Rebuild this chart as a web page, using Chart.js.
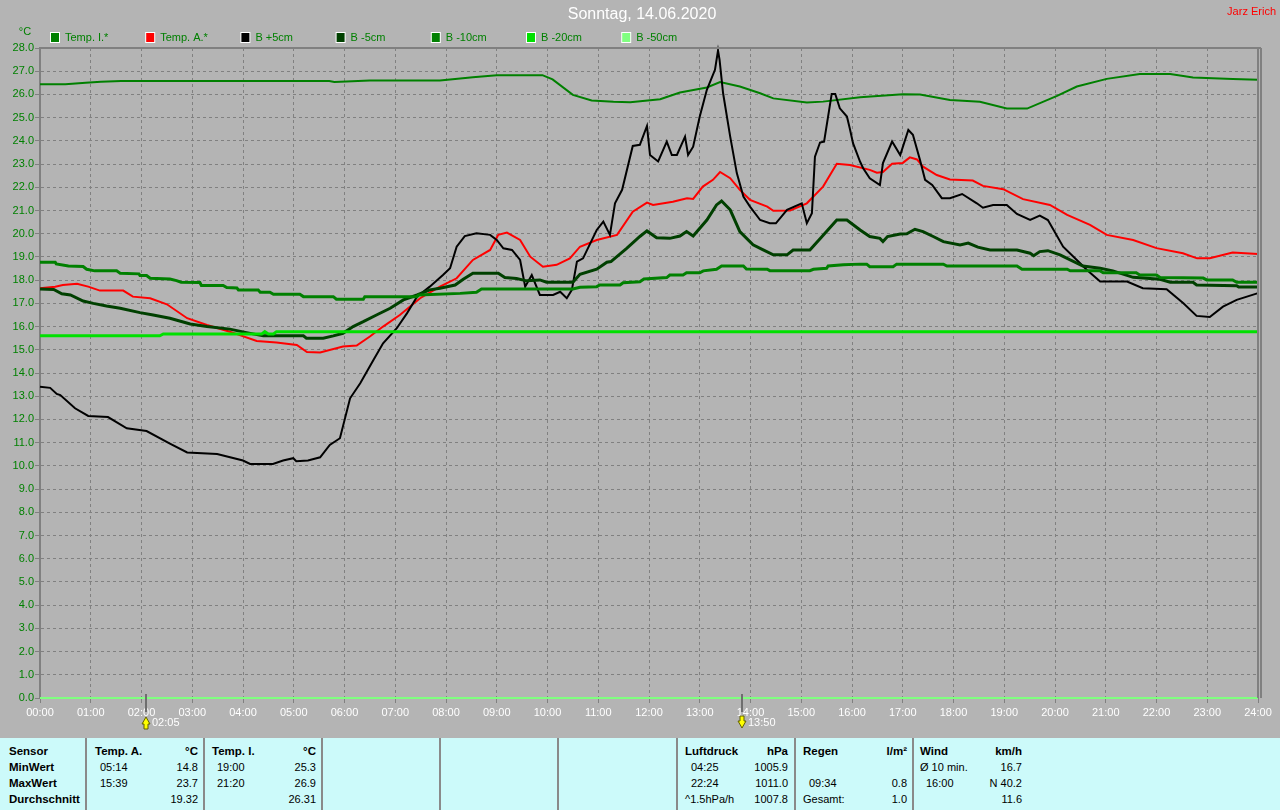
<!DOCTYPE html>
<html>
<head>
<meta charset="utf-8">
<title>Sonntag, 14.06.2020</title>
<script src="https://cdn.jsdelivr.net/npm/chart.js@4.4.0/dist/chart.umd.min.js"></script>
<style>
    html, body {
        margin: 0;
        padding: 0;
        width: 1280px;
        height: 810px;
        overflow: hidden;
        background: #b4b4b4;
        font-family: 'Liberation Sans', Arial, sans-serif;
    }
    #chartWrap { position: absolute; left: 0; top: 0; width: 1280px; height: 737px; }
    #panel { position: absolute; left: 0; top: 738px; width: 1280px; height: 72px; background: #ccfafa; }
    .sep { position: absolute; top: 0; width: 2px; height: 72px; background: #8a8a8a; }
    .cell { position: absolute; font-size: 11px; line-height: 16px; color: #000; white-space: nowrap; }
    .b { font-weight: bold; font-size: 11.5px; }
</style>
</head>
<body>
<div id="chartWrap"><canvas id="tempChart" width="1280" height="737"></canvas></div>
<div id="panel"></div>

<script>
/* ========================================
   WETTER TAGESGRAFIK - 14.06.2020
======================================== */

// Achsen
const hourLabels = ['00:00', '01:00', '02:00', '03:00', '04:00', '05:00', '06:00', '07:00', '08:00',
    '09:00', '10:00', '11:00', '12:00', '13:00', '14:00', '15:00', '16:00', '17:00', '18:00',
    '19:00', '20:00', '21:00', '22:00', '23:00', '24:00'];

// Temp. I.* (Stunden / °C)
const tempI_t = [0, 0.5, 0.9, 1.2, 1.6, 2.5, 4, 5.7, 5.8, 6.5, 7.5, 7.88, 8.53, 9.0, 9.9, 10.1, 10.5, 10.87,
    11.3, 11.63, 12.22, 12.61, 13.14, 13.4, 13.79, 14.19, 14.45, 15.11, 15.43, 16.16, 17.0, 17.34, 17.93,
    18.52, 19.05, 19.45, 20.04, 20.43, 21.02, 21.67, 22.27, 22.72, 23.5, 24];
const tempI_v = [26.44, 26.44, 26.5, 26.55, 26.58, 26.58, 26.58, 26.58, 26.54, 26.6, 26.6, 26.6, 26.74, 26.83, 26.83, 26.65, 25.98, 25.74,
    25.68, 25.66, 25.79, 26.08, 26.3, 26.53, 26.34, 26.05, 25.83, 25.65, 25.69, 25.88, 26.01, 26.0, 25.76,
    25.68, 25.39, 25.39, 25.94, 26.34, 26.67, 26.88, 26.88, 26.73, 26.66, 26.63];

// Temp. A.*
const tempA_t = [0, 0.3, 0.45, 0.73, 0.95, 1.18, 1.64, 1.83, 2.17, 2.5, 2.9, 3.29, 3.74, 4.27, 4.66, 5.06,
    5.26, 5.52, 5.97, 6.24, 6.5, 6.76, 7.09, 7.49, 7.88, 8.21, 8.53, 8.87, 9.03, 9.2, 9.46, 9.66, 9.91,
    10.18, 10.44, 10.64, 10.97, 11.37, 11.68, 11.96, 12.08, 12.47, 12.75, 12.87, 13.06, 13.26, 13.4, 13.6,
    13.79, 13.99, 14.33, 14.45, 14.78, 15.11, 15.43, 15.7, 15.96, 16.35, 16.49, 16.61, 16.79, 17.0, 17.14,
    17.28, 17.4, 17.67, 17.93, 18.38, 18.58, 18.98, 19.37, 19.9, 20.24, 20.69, 21.02, 21.54, 22.0, 22.52,
    22.8, 23.05, 23.5, 24];
const tempA_v = [17.65, 17.72, 17.79, 17.84, 17.72, 17.55, 17.55, 17.29, 17.22, 16.96, 16.36, 16.07, 15.78, 15.38, 15.31, 15.21,
    14.9, 14.88, 15.14, 15.18, 15.57, 16.0, 16.5, 17.22, 17.72, 18.08, 18.87, 19.3, 19.95, 20.05, 19.73, 19.01, 18.58,
    18.66, 18.94, 19.44, 19.73, 19.95, 20.95, 21.34, 21.24, 21.38, 21.53, 21.5, 22.03, 22.32, 22.66, 22.39,
    21.89, 21.46, 21.17, 20.99, 21.0, 21.31, 22.03, 23.01, 22.96, 22.75, 22.63, 22.66, 23.01, 23.05, 23.29,
    23.2, 22.89, 22.53, 22.34, 22.29, 22.06, 21.92, 21.49, 21.24, 20.81, 20.38, 19.95, 19.73, 19.38, 19.16,
    18.94, 18.94, 19.19, 19.13];

// B +5cm
const bPlus5_t = [0, 0.2, 0.33, 0.4, 0.69, 0.95, 1.34, 1.71, 2.03, 2.1, 2.56, 2.9, 3.49, 4.0, 4.14, 4.59,
    4.79, 4.99, 5.05, 5.28, 5.52, 5.71, 5.91, 6.11, 6.31, 6.57, 6.76, 7.03, 7.23, 7.43, 7.68, 7.94, 8.08,
    8.21, 8.37, 8.6, 8.87, 9.0, 9.13, 9.3, 9.46, 9.56, 9.69, 9.85, 10.11, 10.25, 10.38, 10.48, 10.58, 10.7,
    10.97, 11.1, 11.23, 11.33, 11.47, 11.68, 11.82, 11.96, 12.02, 12.18, 12.35, 12.45, 12.55, 12.71, 12.77,
    12.87, 13.0, 13.14, 13.3, 13.36, 13.39, 13.46, 13.6, 13.73, 13.86, 13.99, 14.19, 14.38, 14.5, 14.72,
    15.01, 15.11, 15.21, 15.27, 15.37, 15.45, 15.6, 15.67, 15.76, 15.9, 15.96, 16.02, 16.16, 16.22, 16.35,
    16.55, 16.61, 16.79, 16.95, 17.11, 17.2, 17.34, 17.44, 17.58, 17.77, 17.93, 18.17, 18.46, 18.58, 18.78,
    19.05, 19.25, 19.51, 19.7, 19.86, 20.16, 20.43, 20.63, 20.89, 21.14, 21.42, 21.73, 22.2, 22.53, 22.79,
    23.05, 23.31, 23.58, 24];
const bPlus5_v = [13.41, 13.36, 13.1, 13.05, 12.48, 12.15, 12.1, 11.62, 11.52, 11.5, 10.96, 10.58, 10.51, 10.23, 10.08, 10.08,
    10.23, 10.33, 10.2, 10.23, 10.37, 10.9, 11.19, 12.91, 13.56, 14.56, 15.28, 15.93, 16.57, 17.29, 17.72, 18.22, 18.51,
    19.44, 19.9, 20.02, 19.95, 19.73, 19.37, 19.3, 18.87, 17.72, 18.22, 17.36, 17.36, 17.5, 17.22, 17.58, 18.8, 18.94,
    20.16, 20.52, 19.95, 21.31, 21.89, 23.78, 23.83, 24.64, 23.39, 23.11, 23.97, 23.39, 23.39, 24.18, 23.39,
    23.75, 25.05, 26.2, 27.06, 27.89, 27.5, 26.05, 24.18, 22.61, 21.6, 21.17, 20.59, 20.45, 20.45, 21.03,
    21.31, 20.45, 20.88, 23.32, 23.93, 23.97, 26.02, 26.02, 25.4, 25.05, 24.5, 23.9, 23.1, 22.82, 22.39,
    22.1, 23.04, 23.97, 23.39, 24.47, 24.26, 23.18, 22.32, 22.1, 21.53, 21.53, 21.71, 21.31, 21.12, 21.24,
    21.24, 20.85, 20.59, 20.78, 20.59, 19.44, 18.87, 18.44, 17.94, 17.94, 17.94, 17.65, 17.61, 17.0, 16.46,
    16.41, 16.86, 17.15, 17.44];

// B -5cm
const bMinus5_t = [0, 0.27, 0.43, 0.6, 0.85, 1.05, 1.31, 1.58, 1.97, 2.23, 2.56, 2.96, 3.29, 3.74, 4.07, 4.4,
    5.19, 5.25, 5.58, 5.78, 5.97, 6.17, 6.37, 6.63, 6.9, 7.16, 7.43, 7.68, 7.88, 8.18, 8.34, 8.53, 9.03,
    9.16, 9.39, 9.59, 9.85, 9.98, 10.5, 10.64, 10.97, 11.17, 11.25, 11.56, 11.82, 11.96, 12.15, 12.41,
    12.61, 12.74, 12.87, 13.14, 13.33, 13.43, 13.6, 13.79, 14.05, 14.25, 14.45, 14.72, 14.84, 15.17, 15.41,
    15.7, 15.9, 16.16, 16.35, 16.55, 16.61, 16.7, 16.95, 17.08, 17.24, 17.4, 17.6, 17.8, 18.13, 18.29,
    18.48, 18.72, 19.25, 19.51, 19.58, 19.7, 19.86, 20.1, 20.3, 20.55, 20.89, 21.14, 21.54, 22.07, 22.27,
    22.72, 22.79, 23.58, 23.62, 24];
const bMinus5_v = [17.62, 17.6, 17.41, 17.36, 17.1, 17.0, 16.89, 16.79, 16.6, 16.5, 16.36, 16.11, 16.0, 15.89, 15.74, 15.6,
    15.6, 15.5, 15.5, 15.6, 15.71, 16.0, 16.21, 16.5, 16.79, 17.15, 17.36, 17.58, 17.65, 17.79, 18.04, 18.3, 18.3,
    18.11, 18.07, 17.97, 18.01, 17.91, 17.91, 18.25, 18.47, 18.77, 18.8, 19.37, 19.88, 20.12, 19.83, 19.8,
    19.9, 20.09, 19.9, 20.59, 21.24, 21.41, 21.03, 20.09, 19.52, 19.3, 19.09, 19.09, 19.3, 19.3, 19.88,
    20.59, 20.59, 20.16, 19.88, 19.8, 19.66, 19.88, 19.99, 20.0, 20.19, 20.09, 19.88, 19.66, 19.52, 19.6,
    19.42, 19.3, 19.3, 19.16, 19.05, 19.23, 19.27, 19.09, 18.87, 18.61, 18.51, 18.4, 18.12, 18.04, 17.91,
    17.91, 17.79, 17.76, 17.7, 17.7];

// B -10cm
const bMinus10_t = [0, 0.3, 0.32, 0.56, 0.85, 0.92, 1.08, 1.51, 1.58, 1.95, 1.97, 2.1, 2.17, 2.56, 2.69, 2.78,
    3.15, 3.18, 3.61, 3.68, 3.88, 3.91, 4.3, 4.34, 4.53, 4.6, 5.12, 5.19, 5.78, 5.84, 6.37, 6.4, 7.43, 7.46,
    8.28, 8.6, 8.7, 10.5, 10.64, 10.97, 11.03, 11.43, 11.49, 11.82, 11.9, 12.35, 12.41, 12.67, 12.74, 13.0,
    13.07, 13.33, 13.43, 13.86, 13.92, 14.33, 14.38, 15.17, 15.24, 15.5, 15.53, 15.83, 16.16, 16.29, 16.35,
    16.81, 16.88, 17.8, 17.87, 19.25, 19.35, 20.24, 20.3, 20.89, 20.95, 21.6, 21.67, 22.0, 22.07, 22.92,
    22.99, 23.5, 23.58, 24];
const bMinus10_v = [18.77, 18.77, 18.7, 18.61, 18.59, 18.47, 18.4, 18.4, 18.3, 18.27, 18.2, 18.2, 18.08, 18.05, 17.98, 17.91,
    17.9, 17.77, 17.77, 17.68, 17.66, 17.58, 17.58, 17.48, 17.48, 17.39, 17.39, 17.29, 17.29, 17.18, 17.18, 17.29, 17.29, 17.36,
    17.43, 17.48, 17.62, 17.62, 17.69, 17.72, 17.79, 17.79, 17.89, 17.93, 18.05, 18.11, 18.22, 18.22, 18.32, 18.32,
    18.4, 18.47, 18.61, 18.61, 18.48, 18.47, 18.41, 18.41, 18.47, 18.51, 18.61, 18.66, 18.69, 18.69, 18.58,
    18.58, 18.69, 18.69, 18.61, 18.61, 18.47, 18.47, 18.4, 18.4, 18.32, 18.32, 18.22, 18.22, 18.11, 18.09,
    18.01, 18.01, 17.91, 17.91];

// B -20cm
const bMinus20_t = [0, 2.36, 2.43, 4.37, 4.43, 4.5, 4.6, 4.66, 24];
const bMinus20_v = [15.6, 15.6, 15.68, 15.68, 15.78, 15.68, 15.68, 15.78, 15.78];

// B -50cm
const bMinus50_t = [0, 24];
const bMinus50_v = [0, 0];

// Legende / Serien
const seriesLabels = ['Temp. I.*', 'Temp. A.*', 'B +5cm', 'B -5cm', 'B -10cm', 'B -20cm', 'B -50cm'];
const seriesTimes = [tempI_t, tempA_t, bPlus5_t, bMinus5_t, bMinus10_t, bMinus20_t, bMinus50_t];
const seriesValues = [tempI_v, tempA_v, bPlus5_v, bMinus5_v, bMinus10_v, bMinus20_v, bMinus50_v];
const seriesColors = ['#008000', '#ff0000', '#000000', '#004000', '#008000', '#00e000', '#80ff80'];
const seriesWidths = [2, 2, 2, 3, 3, 3, 2];

// Markierungen unter der Zeitachse
const markerTimes = [2 + 5 / 60, 13 + 50 / 60];
const markerLabels = ['02:05', '13:50'];

// Tabelle unten
const tableSeparators = [86, 204, 322, 440, 558, 677, 795, 913];
const tableRows = [751, 767, 783, 799];
const tableCells = [
    // [x, Zeile, Text, fett, Ausrichtung]
    [9, 0, 'Sensor', true, 'l'], [9, 1, 'MinWert', true, 'l'], [9, 2, 'MaxWert', true, 'l'], [9, 3, 'Durchschnitt', true, 'l'],
    [95, 0, 'Temp. A.', true, 'l'], [198, 0, '°C', true, 'r'],
    [100, 1, '05:14', false, 'l'], [198, 1, '14.8', false, 'r'],
    [100, 2, '15:39', false, 'l'], [198, 2, '23.7', false, 'r'],
    [198, 3, '19.32', false, 'r'],
    [212, 0, 'Temp. I.', true, 'l'], [316, 0, '°C', true, 'r'],
    [217, 1, '19:00', false, 'l'], [316, 1, '25.3', false, 'r'],
    [217, 2, '21:20', false, 'l'], [316, 2, '26.9', false, 'r'],
    [316, 3, '26.31', false, 'r'],
    [685, 0, 'Luftdruck', true, 'l'], [788, 0, 'hPa', true, 'r'],
    [691, 1, '04:25', false, 'l'], [788, 1, '1005.9', false, 'r'],
    [691, 2, '22:24', false, 'l'], [788, 2, '1011.0', false, 'r'],
    [685, 3, '^1.5hPa/h', false, 'l'], [788, 3, '1007.8', false, 'r'],
    [803, 0, 'Regen', true, 'l'], [907, 0, 'l/m²', true, 'r'],
    [809, 2, '09:34', false, 'l'], [907, 2, '0.8', false, 'r'],
    [803, 3, 'Gesamt:', false, 'l'], [907, 3, '1.0', false, 'r'],
    [920, 0, 'Wind', true, 'l'], [1022, 0, 'km/h', true, 'r'],
    [920, 1, 'Ø 10 min.', false, 'l'], [1022, 1, '16.7', false, 'r'],
    [926, 2, '16:00', false, 'l'], [1022, 2, 'N 40.2', false, 'r'],
    [1022, 3, '11.6', false, 'r']
];

const FONT = "'Liberation Sans', Arial, sans-serif";

// ========================================
// PLUGIN: Titel, Legende, Rahmen, Marker
// ========================================

const decorPlugin = {
    id: 'decor',
    afterDraw(chart) {
        const ctx = chart.ctx;
        const area = chart.chartArea;
        const xs = chart.scales.x;

        ctx.save();

        // Rahmen oben und rechts
        ctx.strokeStyle = '#808080';
        ctx.lineWidth = 2;
        ctx.beginPath();
        ctx.moveTo(area.left, area.top);
        ctx.lineTo(area.right + 3, area.top);
        ctx.stroke();
        ctx.beginPath();
        ctx.moveTo(area.right, area.top);
        ctx.lineTo(area.right, area.bottom);
        ctx.moveTo(area.right + 3, area.top);
        ctx.lineTo(area.right + 3, area.bottom);
        ctx.stroke();

        // Titel
        ctx.fillStyle = '#ffffff';
        ctx.font = '16px ' + FONT;
        ctx.textAlign = 'center';
        ctx.textBaseline = 'middle';
        ctx.fillText('Sonntag, 14.06.2020', 642, 15);

        // Autor
        ctx.fillStyle = '#ff0000';
        ctx.font = '11px ' + FONT;
        ctx.textAlign = 'right';
        ctx.fillText('Jarz Erich', 1276, 12);

        // Einheit
        ctx.fillStyle = '#008000';
        ctx.textAlign = 'center';
        ctx.fillText('°C', 25, 32);

        // Legende
        ctx.textAlign = 'left';
        seriesLabels.forEach((label, i) => {
            const x = 50 + i * 95.2;
            ctx.fillStyle = '#ffffff';
            ctx.fillRect(x, 32, 10, 11);
            ctx.fillStyle = seriesColors[i];
            ctx.fillRect(x + 1, 33, 8, 9);
            ctx.fillStyle = '#008000';
            ctx.fillText(label, x + 15, 38);
        });

        // Marker
        markerTimes.forEach((t, i) => {
            const x = Math.round(xs.getPixelForValue(t));
            ctx.strokeStyle = '#6e6e6e';
            ctx.lineWidth = 2;
            ctx.beginPath();
            ctx.moveTo(x, 694);
            ctx.lineTo(x, 712);
            ctx.stroke();

            ctx.fillStyle = '#ffff00';
            ctx.strokeStyle = '#606000';
            ctx.lineWidth = 1;
            ctx.beginPath();
            if (i === 0) {
                ctx.moveTo(x, 717);
                ctx.lineTo(x + 4, 724);
                ctx.lineTo(x + 2, 724);
                ctx.lineTo(x + 2, 729);
                ctx.lineTo(x - 2, 729);
                ctx.lineTo(x - 2, 724);
                ctx.lineTo(x - 4, 724);
            } else {
                ctx.moveTo(x - 2, 716);
                ctx.lineTo(x + 2, 716);
                ctx.lineTo(x + 2, 721);
                ctx.lineTo(x + 4, 721);
                ctx.lineTo(x, 728);
                ctx.lineTo(x - 4, 721);
                ctx.lineTo(x - 2, 721);
            }
            ctx.closePath();
            ctx.fill();
            ctx.stroke();

            ctx.fillStyle = '#ffffff';
            ctx.font = '11px ' + FONT;
            ctx.textAlign = 'left';
            ctx.fillText(markerLabels[i], x + 6, 723);
        });

        ctx.restore();
    }
};

// ========================================
// DIAGRAMM
// ========================================

function buildDatasets() {
    return seriesLabels.map((label, i) => ({
        label: label,
        data: seriesTimes[i].map((t, j) => ({ x: t, y: seriesValues[i][j] })),
        borderColor: seriesColors[i],
        backgroundColor: seriesColors[i],
        borderWidth: seriesWidths[i],
        pointRadius: 0,
        tension: 0,
        fill: false,
        clip: 4,
        order: seriesLabels.length - 1 - i
    }));
}

function initializeChart() {
    const ctx = document.getElementById('tempChart');

    new Chart(ctx, {
        type: 'line',
        data: { datasets: buildDatasets() },
        options: {
            responsive: false,
            animation: false,
            layout: { padding: { top: 48, right: 22, left: 0, bottom: 0 } },
            plugins: {
                legend: { display: false },
                tooltip: { enabled: false }
            },
            scales: {
                x: {
                    type: 'linear',
                    min: 0,
                    max: 24,
                    afterFit: scale => { scale.height = 39; },
                    ticks: {
                        stepSize: 1,
                        autoSkip: false,
                        maxRotation: 0,
                        color: '#ffffff',
                        padding: 3,
                        font: { family: FONT, size: 11 },
                        callback: value => hourLabels[value]
                    },
                    grid: { color: '#808080', lineWidth: 1, tickLength: 5 },
                    border: { color: '#808080', width: 2, dash: [3, 3] }
                },
                y: {
                    min: 0,
                    max: 28,
                    afterFit: scale => { scale.width = 40; },
                    ticks: {
                        stepSize: 1,
                        color: '#008000',
                        padding: 1,
                        font: { family: FONT, size: 11 },
                        callback: value => value.toFixed(1)
                    },
                    grid: { color: '#808080', lineWidth: 1, tickLength: 5 },
                    border: { color: '#808080', width: 2, dash: [3, 3] }
                }
            }
        },
        plugins: [decorPlugin]
    });
}

// ========================================
// TABELLE
// ========================================

function buildPanel() {
    const panel = document.getElementById('panel');
    const top = 738;

    tableSeparators.forEach(x => {
        const d = document.createElement('div');
        d.className = 'sep';
        d.style.left = (x - 1) + 'px';
        panel.appendChild(d);
    });

    tableCells.forEach(([x, row, text, bold, align]) => {
        const d = document.createElement('div');
        d.className = 'cell' + (bold ? ' b' : '');
        d.textContent = text;
        d.style.top = (tableRows[row] - 8 - top) + 'px';
        if (align === 'r') {
            d.style.right = (1280 - x) + 'px';
        } else {
            d.style.left = x + 'px';
        }
        panel.appendChild(d);
    });
}

document.addEventListener('DOMContentLoaded', function() {
    initializeChart();
    buildPanel();
});
</script>
</body>
</html>
